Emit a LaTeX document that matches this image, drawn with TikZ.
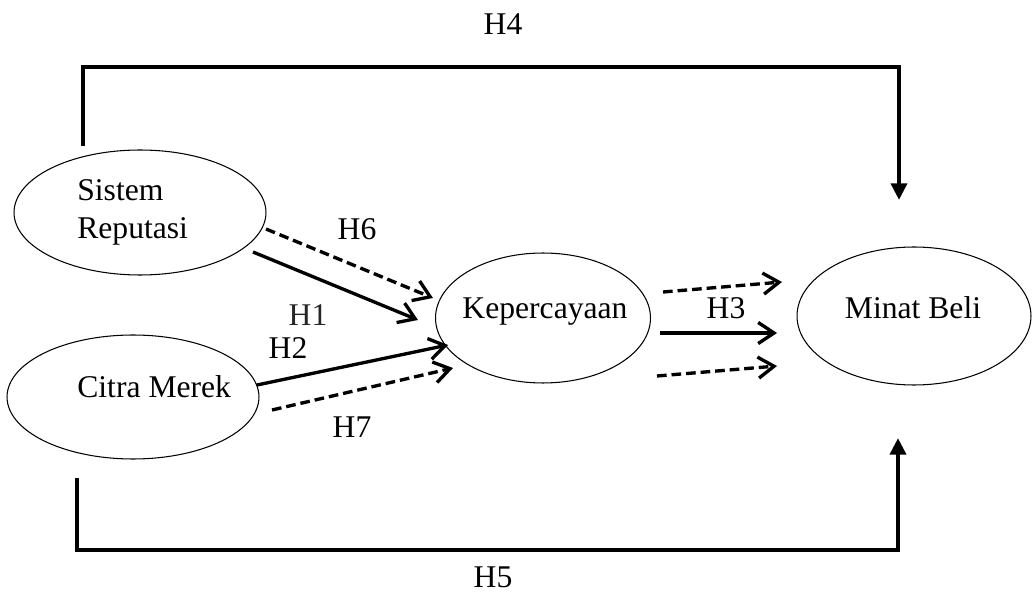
\documentclass[tikz,border=0pt]{standalone}
\usepackage{fontspec}
\setmainfont{Liberation Serif}
\usetikzlibrary{arrows.meta,shapes.geometric}
\begin{document}
\begin{tikzpicture}[x=0.02cm,y=-0.02cm,
  every node/.style={font=\fontsize{18}{21.5}\selectfont},
  oval/.style={draw,ellipse,line width=0.6pt,inner sep=0pt},
  txt/.style={inner sep=0pt,anchor=base},
  frame/.style={line width=2.4pt,line join=miter,-{Triangle[length=9.5pt,width=9pt]}},
  link/.style={line width=1.9pt,-{Straight Barb[length=9pt,width=12pt]}},
  dlink/.style={link,dash pattern=on 5.5pt off 2.8pt}]
\useasboundingbox (0,0) rectangle (1032,601);
% ellipses
\node[oval,minimum width=5.04cm,minimum height=2.5cm] (sr) at (140,212.5) {};
\node[oval,minimum width=5.04cm,minimum height=2.48cm] (cm) at (133,397) {};
\node[oval,minimum width=4.3cm,minimum height=2.6cm] (kp) at (543,318) {};
\node[oval,minimum width=4.68cm,minimum height=2.76cm] (mb) at (914,316) {};
% texts
\node[txt,anchor=base west] (t1) at (77,201) {Sistem};
\node[txt,anchor=base west] (t2) at (77,239) {Reputasi};
\node[txt,anchor=base west] (t3) at (77,398) {Citra Merek};
\node[txt] (t4) at (545,319) {Kepercayaan};
\node[txt] (t5) at (913,319) {Minat Beli};
% labels
\node[txt] (h4) at (503,35) {H4};
\node[txt] (h5) at (493,587) {H5};
\node[txt] (h6) at (357,240) {H6};
\node[txt,text=black!85] (h1) at (308,326) {H1};
\node[txt] (h2) at (288,359) {H2};
\node[txt] (h7) at (352,438) {H7};
\node[txt] (h3) at (726,319) {H3};
% coordinates
\coordinate (a4s) at (83,146);
\coordinate (a4l) at (83,67);
\coordinate (a4r) at (899,67);
\coordinate (a4e) at (899,200);
\coordinate (a5s) at (77,478);
\coordinate (a5l) at (77,550);
\coordinate (a5r) at (898,550);
\coordinate (a5e) at (898,438);
\coordinate (h6s) at (266,229);
\coordinate (h6e) at (433,298);
\coordinate (h1s) at (253,252);
\coordinate (h1e) at (418,320);
\coordinate (h2s) at (257,385);
\coordinate (h2e) at (448,345);
\coordinate (h7s) at (272,410);
\coordinate (h7e) at (453,368);
\coordinate (h3as) at (663,292);
\coordinate (h3ae) at (782,282);
\coordinate (h3bs) at (660,333);
\coordinate (h3be) at (777,333);
\coordinate (h3cs) at (657,376);
\coordinate (h3ce) at (777,366);
% frame arrows
\draw[frame] (a4s) -- (a4l) -- (a4r) -- (a4e);
\draw[frame] (a5s) -- (a5l) -- (a5r) -- (a5e);
% links
\draw[dlink] (h6s) -- (h6e);
\draw[link] (h1s) -- (h1e);
\draw[link] (h2s) -- (h2e);
\draw[dlink] (h7s) -- (h7e);
\draw[dlink] (h3as) -- (h3ae);
\draw[link] (h3bs) -- (h3be);
\draw[dlink] (h3cs) -- (h3ce);
\end{tikzpicture}
\end{document}
